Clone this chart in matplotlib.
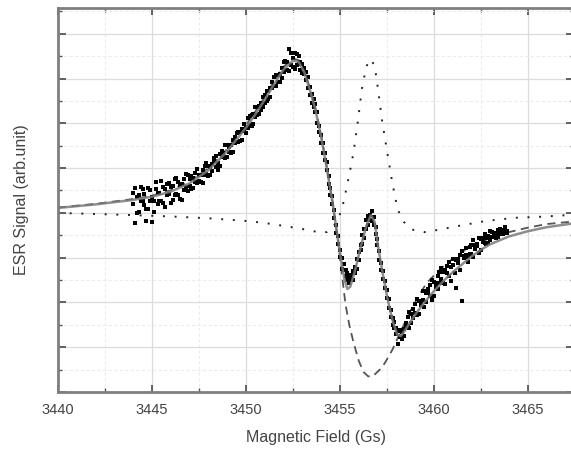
import matplotlib
matplotlib.use("Agg")
import matplotlib.pyplot as plt
from matplotlib.ticker import MultipleLocator

plt.rcParams['font.family'] = ['Liberation Sans', 'DejaVu Sans']

# measured field points (Gs), two sweeps on the same field grid
field = [
    3444.0, 3444.1, 3444.2, 3444.3, 3444.4, 3444.5, 3444.6, 3444.7, 3444.8, 3444.9,
    3445.0, 3445.1, 3445.2, 3445.3, 3445.4, 3445.5, 3445.6, 3445.7, 3445.8, 3445.9,
    3446.0, 3446.1, 3446.2, 3446.3, 3446.4, 3446.5, 3446.6, 3446.7, 3446.8, 3446.9,
    3447.0, 3447.1, 3447.2, 3447.3, 3447.4, 3447.5, 3447.6, 3447.7, 3447.8, 3447.9,
    3448.0, 3448.1, 3448.2, 3448.3, 3448.4, 3448.5, 3448.6, 3448.7, 3448.8, 3448.9,
    3449.0, 3449.1, 3449.2, 3449.3, 3449.4, 3449.5, 3449.6, 3449.7, 3449.8, 3449.9,
    3450.0, 3450.1, 3450.2, 3450.3, 3450.4, 3450.5, 3450.6, 3450.7, 3450.8, 3450.9,
    3451.0, 3451.1, 3451.2, 3451.3, 3451.4, 3451.5, 3451.6, 3451.7, 3451.8, 3451.9,
    3452.0, 3452.1, 3452.2, 3452.3, 3452.4, 3452.5, 3452.6, 3452.7, 3452.8, 3452.9,
    3453.0, 3453.1, 3453.2, 3453.3, 3453.4, 3453.5, 3453.6, 3453.7, 3453.8, 3453.9,
    3454.0, 3454.1, 3454.2, 3454.3, 3454.4, 3454.5, 3454.6, 3454.7, 3454.8, 3454.9,
    3455.0, 3455.1, 3455.2, 3455.3, 3455.4, 3455.5, 3455.6, 3455.7, 3455.8, 3455.9,
    3456.0, 3456.1, 3456.2, 3456.3, 3456.4, 3456.5, 3456.6, 3456.7, 3456.8, 3456.9,
    3457.0, 3457.1, 3457.2, 3457.3, 3457.4, 3457.5, 3457.6, 3457.7, 3457.8, 3457.9,
    3458.0, 3458.1, 3458.2, 3458.3, 3458.4, 3458.5, 3458.6, 3458.7, 3458.8, 3458.9,
    3459.0, 3459.1, 3459.2, 3459.3, 3459.4, 3459.5, 3459.6, 3459.7, 3459.8, 3459.9,
    3460.0, 3460.1, 3460.2, 3460.3, 3460.4, 3460.5, 3460.6, 3460.7, 3460.8, 3460.9,
    3461.0, 3461.1, 3461.2, 3461.3, 3461.4, 3461.5, 3461.6, 3461.7, 3461.8, 3461.9,
    3462.0, 3462.1, 3462.2, 3462.3, 3462.4, 3462.5, 3462.6, 3462.7, 3462.8, 3462.9,
    3463.0, 3463.1, 3463.2, 3463.3, 3463.4, 3463.5, 3463.6, 3463.7, 3463.8, 3463.9,
]

sweep1 = [
    0.88, -0.45, 0.70, 0.02, 1.14, 0.55, 0.86, 0.18, 1.09, 0.51,
    0.72, 0.04, 1.07, 0.89, 0.51, 1.44, 0.46, 1.08, 0.81, 1.33,
    0.45, 1.19, 0.82, 1.56, 0.80, 1.24, 0.57, 1.51, 1.15, 1.68,
    1.52, 1.08, 1.54, 1.39, 1.95, 1.41, 1.67, 1.33, 2.08, 1.74,
    2.10, 1.69, 2.17, 2.46, 2.04, 1.93, 2.61, 2.50, 2.48, 3.02,
    2.50, 2.96, 2.66, 3.27, 3.12, 3.58, 3.18, 3.59, 3.24, 3.95,
    3.85, 3.77, 4.34, 3.86, 4.43, 4.30, 4.73, 4.41, 4.89, 4.72,
    5.25, 4.99, 5.43, 5.17, 5.86, 5.65, 6.18, 5.86, 6.19, 6.02,
    6.75, 6.38, 6.76, 6.34, 7.12, 6.90, 6.43, 7.10, 6.65, 6.75,
    6.65, 6.20, 6.28, 5.57, 5.60, 4.90, 5.10, 4.50, 4.50, 3.60,
    3.50, 2.68, 2.67, 1.90, 1.65, 0.80, 0.75, -0.22, -0.53, -1.40,
    -1.65, -2.50, -2.27, -2.53, -3.00, -2.83, -2.96, -2.58, -2.70, -2.05,
    -2.10, -1.45, -1.38, -0.72, -0.70, -0.15, -0.10, -0.38, -0.18, -0.93,
    -1.15, -2.09, -2.22, -2.95, -3.04, -3.78, -3.83, -4.64, -4.70, -5.16,
    -5.12, -5.85, -5.24, -5.34, -5.52, -4.90, -5.07, -4.44, -4.91, -4.28,
    -4.45, -3.84, -4.53, -3.92, -3.91, -3.50, -4.00, -3.40, -3.70, -3.00,
    -3.70, -3.11, -2.82, -3.13, -2.44, -3.15, -2.57, -2.69, -2.21, -3.03,
    -2.35, -2.08, -3.35, -2.04, -2.57, -1.70, -2.03, -1.86, -2.19, -1.52,
    -1.85, -1.19, -1.63, -1.37, -1.81, -1.15, -1.30, -0.95, -1.40, -1.05,
    -1.20, -0.87, -1.03, -0.90, -1.06, -0.73, -0.89, -0.76, -0.82, -0.89,
]

sweep2 = [
    0.38, 1.09, 0.00, 0.82, 0.54, 1.05, 0.36, -0.35, 0.19, 1.01,
    -0.40, 0.54, 1.37, 0.39, 0.91, 0.54, 1.16, 0.28, 1.31, 0.83,
    1.15, 0.59, 1.52, 0.86, 1.40, 0.64, 1.27, 1.01, 1.75, 0.98,
    1.22, 1.63, 1.09, 1.79, 1.35, 1.71, 1.37, 1.93, 1.68, 2.24,
    1.65, 2.04, 1.87, 2.31, 2.54, 2.23, 2.11, 2.75, 2.68, 2.47,
    3.05, 2.71, 3.01, 2.72, 3.37, 3.18, 3.63, 3.19, 3.74, 3.65,
    3.55, 4.22, 3.94, 4.36, 3.98, 4.75, 4.38, 4.76, 4.59, 5.17,
    4.90, 5.44, 5.08, 5.57, 5.56, 6.05, 5.68, 6.16, 5.84, 6.47,
    6.30, 6.78, 6.36, 7.30, 6.62, 6.50, 7.13, 6.62, 7.00, 6.40,
    6.25, 6.45, 5.93, 6.07, 5.25, 5.30, 4.75, 4.85, 4.00, 3.90,
    3.10, 3.13, 2.37, 2.25, 1.30, 1.10, 0.40, 0.13, -0.88, -1.05,
    -1.95, -2.00, -2.57, -2.83, -2.70, -3.13, -2.76, -2.98, -2.40, -2.50,
    -1.75, -1.65, -0.98, -1.12, -0.30, -0.55, -0.30, 0.07, -0.53, -0.63,
    -1.45, -1.69, -2.57, -2.60, -3.34, -3.43, -4.23, -4.34, -5.00, -4.86,
    -5.42, -5.26, -5.54, -5.64, -5.17, -5.10, -4.67, -5.14, -4.51, -4.68,
    -4.05, -4.54, -3.93, -4.12, -3.51, -4.20, -3.60, -3.60, -3.20, -3.90,
    -3.10, -3.31, -3.42, -2.63, -2.94, -2.65, -3.17, -2.39, -2.81, -2.43,
    -2.05, -2.68, -2.11, -2.24, -1.87, -3.95, -1.93, -1.56, -1.99, -1.82,
    -1.45, -1.99, -1.43, -1.47, -1.11, -1.65, -1.10, -1.35, -1.10, -1.35,
    -0.80, -1.07, -0.93, -1.10, -0.76, -0.93, -0.79, -0.96, -0.62, -0.79,
]

# total fit
fit_field = [3440.0, 3442.0, 3444.0, 3445.0, 3446.0, 3447.0, 3448.0, 3449.0, 3450.0,
             3450.5, 3451.0, 3451.5, 3452.0, 3452.5, 3452.8, 3453.1, 3453.4, 3453.7,
             3454.0, 3454.3, 3454.6, 3454.9, 3455.1, 3455.25, 3455.4, 3455.55, 3455.8,
             3456.1, 3456.4, 3456.65, 3456.85, 3457.05, 3457.3, 3457.55, 3457.8, 3458.05,
             3458.25, 3458.5, 3459.0, 3459.5, 3460.0, 3460.5, 3461.0, 3461.5, 3462.0,
             3462.5, 3463.0, 3464.0, 3465.0, 3466.0, 3467.5]
fit_total = [0.22, 0.38, 0.58, 0.72, 0.95, 1.32, 1.90, 2.75, 3.80,
             4.40, 5.05, 5.75, 6.40, 6.80, 6.75, 6.30, 5.50, 4.60,
             3.40, 2.00, 0.50, -1.20, -2.30, -3.00, -3.40, -3.30, -2.60,
             -1.55, -0.60, -0.10, -0.40, -1.60, -2.80, -3.90, -4.80, -5.45,
             -5.50, -5.20, -4.55, -4.00, -3.50, -3.05, -2.65, -2.30, -1.95,
             -1.65, -1.40, -1.05, -0.82, -0.64, -0.46]

# broad component
broad_field = [3440.0, 3442.0, 3444.0, 3445.0, 3446.0, 3447.0, 3448.0, 3449.0, 3450.0,
               3450.5, 3451.0, 3451.5, 3452.0, 3452.5, 3452.8, 3453.1, 3453.4, 3453.7,
               3454.0, 3454.3, 3454.6, 3454.9, 3455.1, 3455.3, 3455.5, 3455.7, 3456.0,
               3456.25, 3456.5, 3456.75, 3457.0, 3457.25, 3457.5, 3457.8, 3458.1, 3458.4,
               3458.8, 3459.2, 3459.6, 3460.0, 3460.5, 3461.0, 3461.5, 3462.0, 3463.0,
               3464.0, 3465.0, 3466.0, 3467.5]
broad_signal = [0.24, 0.40, 0.62, 0.77, 1.01, 1.40, 1.99, 2.85, 3.92,
                4.53, 5.18, 5.88, 6.52, 6.90, 6.82, 6.38, 5.58, 4.68,
                3.48, 2.08, 0.55, -1.25, -2.70, -4.10, -5.00, -5.70, -6.60,
                -7.10, -7.30, -7.30, -7.10, -6.90, -6.55, -6.10, -5.55, -5.00,
                -4.30, -3.70, -3.15, -2.80, -2.40, -2.05, -1.75, -1.48, -1.12,
                -0.86, -0.66, -0.50, -0.38]

# narrow component
narrow_field = [3440.0, 3442.0, 3444.0, 3446.0, 3448.0, 3450.0, 3451.0, 3452.0, 3453.0,
                3453.8, 3454.3, 3454.6, 3454.85, 3455.05, 3455.2, 3455.4, 3455.53, 3455.74,
                3455.96, 3456.17, 3456.38, 3456.55, 3456.7, 3456.86, 3457.02, 3457.23,
                3457.5, 3457.77, 3457.98, 3458.14, 3458.4, 3458.85, 3459.5, 3460.5,
                3461.0, 3461.6, 3462.7, 3464.3, 3465.8, 3467.5]
narrow_signal = [0.00, -0.05, -0.10, -0.16, -0.24, -0.36, -0.45, -0.58, -0.72,
                 -0.85, -0.86, -0.68, -0.35, 0.04, 0.50, 1.30, 1.83, 2.77,
                 4.11, 5.54, 6.43, 6.85, 6.80, 6.52, 5.58, 4.20,
                 2.81, 1.43, 0.54, 0.04, -0.40, -0.75, -0.86, -0.72,
                 -0.63, -0.54, -0.37, -0.22, -0.17, -0.08]

fig = plt.figure(figsize=(5.71, 4.5), dpi=100)
ax = fig.add_axes([0.1016, 0.1289, 0.9034, 0.8533])

ax.plot(narrow_field, narrow_signal, color='#222222', lw=1.4, dashes=(1, 5))
ax.plot(broad_field, broad_signal, color='#555555', lw=1.3, dashes=(4.5, 3))
ax.scatter(field, sweep1, s=5, marker='s', color='black', linewidths=0, zorder=3)
ax.scatter(field, sweep2, s=5, marker='s', color='black', linewidths=0, zorder=3)
ax.plot(fit_field, fit_total, color='#7a7a7a', lw=1.8, alpha=0.85, zorder=4)

ax.set_xlim(3440, 3467.45)
ax.set_ylim(-8.0, 9.15)

ax.xaxis.set_major_locator(MultipleLocator(5))
ax.xaxis.set_minor_locator(MultipleLocator(2.5))
ax.yaxis.set_major_locator(MultipleLocator(2))
ax.yaxis.set_minor_locator(MultipleLocator(1))
ax.set_yticklabels([])

ax.grid(which='major', color='#dcdcdc', lw=0.9)
ax.grid(which='minor', color='#ececec', lw=0.8, ls=(0, (3, 2)))
ax.set_axisbelow(True)

ax.tick_params(which='both', direction='in', top=True, right=True, colors='#555555',
               labelcolor='#444444', labelsize=10.5, pad=8)
ax.tick_params(which='major', length=5, width=1.3)
ax.tick_params(which='minor', length=3, width=1.0)
ax.tick_params(axis='y', which='major', length=6)

for side in ['left', 'bottom', 'top']:
    ax.spines[side].set_color('#7f7f7f')
    ax.spines[side].set_linewidth(2.0)
ax.spines['right'].set_visible(False)

ax.set_xlabel('Magnetic Field (Gs)', fontsize=11.5, color='#444444', labelpad=9)
ax.set_ylabel('ESR Signal (arb.unit)', fontsize=11.5, color='#444444', labelpad=13)

fig.savefig('out.png', dpi=100)
